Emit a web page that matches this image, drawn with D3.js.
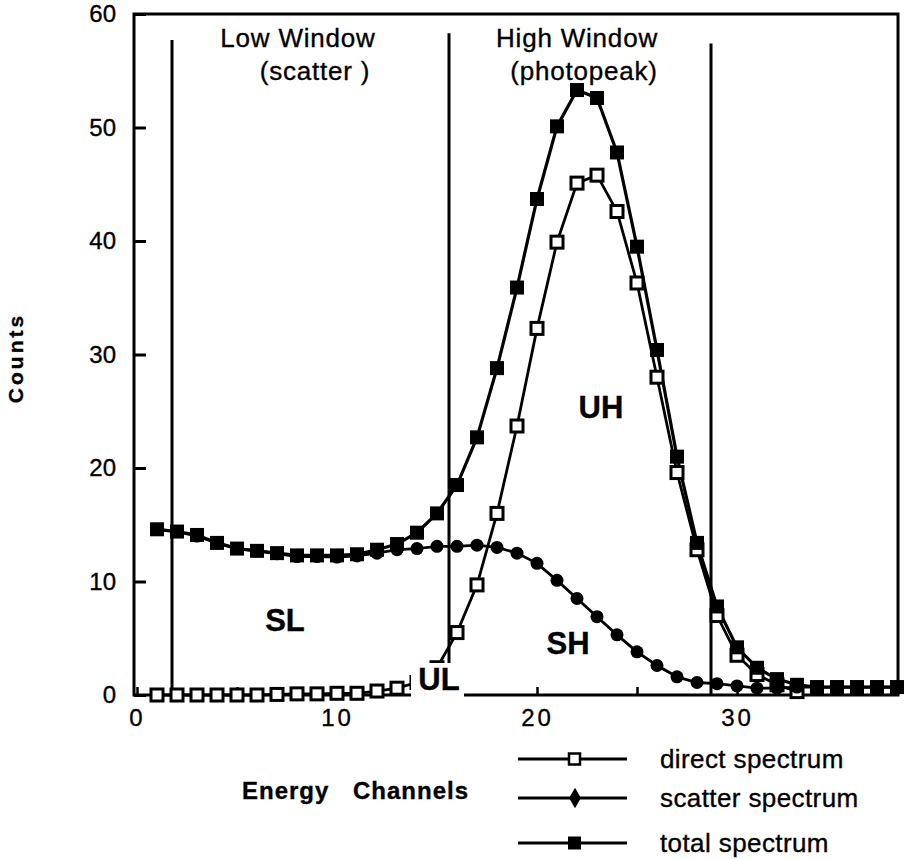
<!DOCTYPE html>
<html>
<head>
<meta charset="utf-8">
<script src="https://cdn.jsdelivr.net/npm/d3@7"></script>
<style>
  body { margin: 0; background: #fff; }
  text { font-family: "Liberation Sans", Arial, sans-serif; fill: #000; stroke: #000; stroke-width: 0.35px; }
</style>
</head>
<body>
<svg id="chart" width="905" height="859"></svg>
<script>
// energy channels 1..38
var channels = d3.range(1, 39);

// direct spectrum (only plotted up to channel 33)
var directCounts = [0, 0, 0, 0, 0, 0, 0.05, 0.1, 0.1, 0.15,
    0.15, 0.35, 0.6, 1.1, 2.4, 5.5, 9.7, 16.0, 23.7, 32.3,
    39.9, 45.1, 45.8, 42.6, 36.3, 28.0, 19.6, 12.8, 7.0, 3.5,
    1.8, 0.9, 0.3];

var scatterCounts = [14.6, 14.4, 14.0, 13.4, 12.9, 12.7, 12.45, 12.2, 12.2, 12.15,
    12.25, 12.5, 12.8, 12.9, 13.1, 13.1, 13.2, 13.0, 12.5, 11.6,
    10.1, 8.5, 6.9, 5.3, 3.8, 2.6, 1.6, 1.1, 1.0, 0.8,
    0.6, 0.6, 0.7, 0.7, 0.7, 0.7, 0.7, 0.7];

var totalCounts = [14.6, 14.4, 14.1, 13.4, 12.9, 12.7, 12.5, 12.3, 12.3, 12.3,
    12.4, 12.8, 13.3, 14.3, 16.0, 18.5, 22.7, 28.8, 35.9, 43.7,
    50.1, 53.3, 52.6, 47.8, 39.5, 30.4, 21.0, 13.4, 7.8, 4.2,
    2.4, 1.4, 0.9, 0.7, 0.7, 0.7, 0.7, 0.7];

// energy window edges (channel) and how high the drawn line goes
var windowEdges = [1.75, 15.6, 28.7];
var windowTops = [57.7, 58.3, 57.4];

var yTicks = [0, 10, 20, 30, 40, 50, 60];
var xTicks = [0, 5, 10, 15, 20, 25, 30, 35];
var xTickLabels = [0, 10, 20, 30];

var legendNames = ["direct spectrum", "scatter spectrum", "total spectrum"];

var svg = d3.select("#chart");

var x = d3.scaleLinear().domain([-0.15, 38.05]).range([134, 898]);
var y = d3.scaleLinear().domain([0, 60]).range([695, 14]);

// frame
svg.append("rect")
    .attr("x", x.range()[0]).attr("y", y.range()[1])
    .attr("width", x.range()[1] - x.range()[0])
    .attr("height", y.range()[0] - y.range()[1])
    .attr("fill", "none").attr("stroke", "#000").attr("stroke-width", 3);

// y axis, ticks inside
var gy = svg.append("g")
    .attr("transform", "translate(" + x.range()[0] + ",0)")
    .call(d3.axisLeft(y).tickValues(yTicks).tickSizeInner(-12).tickSizeOuter(0).tickPadding(18));
gy.select(".domain").remove();
gy.selectAll(".tick line").attr("stroke-width", 3);
gy.selectAll(".tick text").style("font-size", "24px").style("font-family", "'Liberation Sans', Arial, sans-serif");

// x axis
var gx = svg.append("g")
    .attr("transform", "translate(0," + y(0) + ")")
    .call(d3.axisBottom(x).tickValues(xTicks).tickSizeInner(-8).tickSizeOuter(0).tickPadding(14)
        .tickFormat(d => xTickLabels.indexOf(d) >= 0 ? d : ""));
gx.select(".domain").remove();
gx.selectAll(".tick line").attr("stroke-width", 2.5);
gx.selectAll(".tick text").style("font-size", "24px").style("letter-spacing", "3px")
    .style("font-family", "'Liberation Sans', Arial, sans-serif");

// window lines
svg.selectAll(".win")
    .data(windowEdges)
    .enter().append("line")
    .attr("x1", d => x(d)).attr("x2", d => x(d))
    .attr("y1", (d, i) => y(windowTops[i])).attr("y2", y(0))
    .attr("stroke", "#000").attr("stroke-width", 3);

// window titles
var titles = [
    { t: "Low Window", cx: 298, by: 47 },
    { t: "(scatter )", cx: 315, by: 80 },
    { t: "High Window", cx: 577, by: 47 },
    { t: "(photopeak)", cx: 584, by: 80 }
];
svg.selectAll(".title")
    .data(titles)
    .enter().append("text")
    .attr("x", d => d.cx).attr("y", d => d.by)
    .attr("text-anchor", "middle")
    .style("font-size", "26px").style("letter-spacing", "0.8px")
    .text(d => d.t);

// curves
var line = d3.line().x((d, i) => x(channels[i])).y(d => y(d));

svg.append("path").datum(directCounts)
    .attr("d", line).attr("fill", "none").attr("stroke", "#000").attr("stroke-width", 2.8);
svg.append("path").datum(scatterCounts)
    .attr("d", line).attr("fill", "none").attr("stroke", "#000").attr("stroke-width", 2.8);
svg.append("path").datum(totalCounts)
    .attr("d", line).attr("fill", "none").attr("stroke", "#000").attr("stroke-width", 3.2);

// markers
svg.selectAll(".dm")
    .data(directCounts)
    .enter().append("rect")
    .attr("x", (d, i) => x(channels[i]) - 6).attr("y", d => y(d) - 6)
    .attr("width", 12).attr("height", 12)
    .attr("fill", "#fff").attr("stroke", "#000").attr("stroke-width", 3);

svg.selectAll(".sm")
    .data(scatterCounts)
    .enter().append("circle")
    .attr("cx", (d, i) => x(channels[i])).attr("cy", d => y(d))
    .attr("r", 6.5).attr("fill", "#000");

svg.selectAll(".tm")
    .data(totalCounts)
    .enter().append("rect")
    .attr("x", (d, i) => x(channels[i]) - 7).attr("y", d => y(d) - 7)
    .attr("width", 14).attr("height", 14)
    .attr("fill", "#000");

// region labels
var regions = [
    { t: "SL", cx: 285, by: 631 },
    { t: "UH", cx: 601, by: 418 },
    { t: "SH", cx: 568, by: 654 }
];
svg.selectAll(".reg")
    .data(regions)
    .enter().append("text")
    .attr("x", d => d.cx).attr("y", d => d.by)
    .attr("text-anchor", "middle")
    .style("font-size", "31px").style("font-weight", "bold")
    .text(d => d.t);

// UL label sits over the axis with a white box
svg.append("rect")
    .attr("x", 411).attr("y", 663).attr("width", 53).attr("height", 38)
    .attr("fill", "#fff");
svg.append("text")
    .attr("x", 439).attr("y", 690)
    .attr("text-anchor", "middle")
    .style("font-size", "31px").style("font-weight", "bold")
    .text("UL");

// axis titles
svg.append("text")
    .attr("transform", "translate(23,358) rotate(-90)")
    .attr("text-anchor", "middle")
    .style("font-size", "21px").style("font-weight", "bold").style("letter-spacing", "3px")
    .text("Counts");

svg.append("text")
    .attr("x", 242).attr("y", 799)
    .style("font-size", "24px").style("font-weight", "bold").style("letter-spacing", "1px")
    .text("Energy");
svg.append("text")
    .attr("x", 353).attr("y", 799)
    .style("font-size", "24px").style("font-weight", "bold").style("letter-spacing", "1px")
    .text("Channels");

// legend
var legendY = [759, 798, 843];
var lg = svg.selectAll(".lg")
    .data(legendNames)
    .enter().append("g")
    .attr("transform", (d, i) => "translate(0," + legendY[i] + ")");

lg.append("line")
    .attr("x1", 518).attr("x2", 627)
    .attr("stroke", "#000").attr("stroke-width", 2.8);

lg.filter((d, i) => i === 0).append("rect")
    .attr("x", 569).attr("y", -5.5).attr("width", 11).attr("height", 11)
    .attr("fill", "#fff").attr("stroke", "#000").attr("stroke-width", 2.5);
lg.filter((d, i) => i === 1).append("path")
    .attr("transform", "translate(575,0)")
    .attr("d", d3.symbol(d3.symbolDiamond).size(120))
    .attr("fill", "#000");
lg.filter((d, i) => i === 2).append("rect")
    .attr("x", 568).attr("y", -6.5).attr("width", 13).attr("height", 13)
    .attr("fill", "#000");

lg.append("text")
    .attr("x", 660).attr("y", 9)
    .style("font-size", "26px").style("letter-spacing", "0.4px")
    .text(d => d);
</script>
</body>
</html>
